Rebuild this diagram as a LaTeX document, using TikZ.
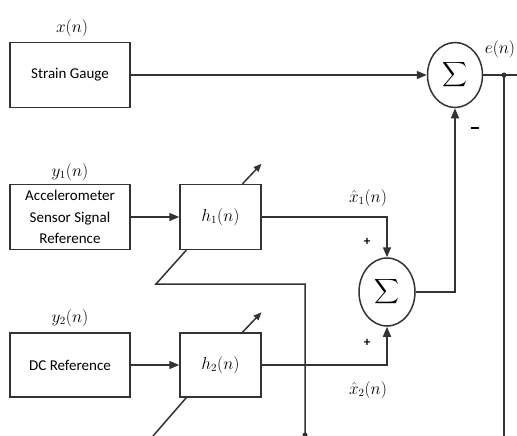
\documentclass[tikz,border=0pt]{standalone}
\usepackage{amsmath}
\usepackage{fontspec}
\newfontfamily\gaugefont{Carlito}
\usepackage{tikz}
\usetikzlibrary{positioning,calc}
\usetikzlibrary{arrows.meta}
\usetikzlibrary{shapes.geometric}

\begin{document}
\begin{tikzpicture}[x=1pt,y=-1pt,line width=1.5pt,draw=black!80,
    blockbox/.style={draw,rectangle,minimum width=120pt,minimum height=65pt,align=center,inner sep=0pt,font=\gaugefont\fontsize{15}{21.5}\selectfont},
    filterbox/.style={draw,rectangle,minimum width=81pt,minimum height=65pt,font=\fontsize{16}{18}\selectfont},
    sumnode/.style={draw,ellipse,minimum width=55pt,minimum height=65pt,inner sep=0pt,font=\fontsize{16}{18}\selectfont},
    sig/.style={inner sep=0pt,font=\fontsize{16}{18}\selectfont},
    sign/.style={inner sep=0pt,font=\gaugefont\bfseries\fontsize{13}{13}\selectfont},
    >={Triangle[length=10pt,width=8pt]},
    ]
\useasboundingbox (0,0) rectangle (517,436);

% blocks
\node[blockbox] (gauge) at (70,75) {Strain Gauge};
\node[blockbox] (accel) at (70,217) {Accelerometer\\Sensor Signal\\Reference};
\node[blockbox,minimum height=64pt] (dcref) at (70,365) {DC Reference};
\node[filterbox] (hone) at (220.5,217) {$h_1(n)$};
\node[filterbox,minimum height=64pt] (htwo) at (220.5,365) {$h_2(n)$};
\node[sumnode] (sumone) at (455,75) {$\displaystyle\sum$};
\node[sumnode,minimum width=56pt,minimum height=68pt] (sumtwo) at (387,292) {$\displaystyle\sum$};

% signal labels
\node[sig] (xlab) at (72,28) {$x(n)$};
\node[sig] (ylabone) at (70,172) {$y_1(n)$};
\node[sig] (ylabtwo) at (70,318) {$y_2(n)$};
\node[sig] (elab) at (500,49) {$e(n)$};
\node[sig] (xhatone) at (368,198) {$\hat{x}_1(n)$};
\node[sig] (xhattwo) at (368,390) {$\hat{x}_2(n)$};
\node[sign] (plusone) at (367,242) {+};
\node[sign] (plustwo) at (367,343) {+};
\node[sign] (minus) at (475,128) {\rule{8pt}{2.6pt}};

\coordinate (eout) at (517,75);
\coordinate (etap) at (504,75);
\coordinate (ebot) at (504,436);
\coordinate (fbone) at (156,284);
\coordinate (fbdown) at (305,436);
\coordinate (fbtwo) at (153,436);

\draw[->] (gauge) -- (sumone); % x
\draw[->] (accel) -- (hone); % y_1
\draw[->] (dcref) -- (htwo); % y_2
\draw[->] (hone.east) -| (sumtwo.north); % x_1 hat
\draw[->] (htwo.east) -| (sumtwo.south); % x_2 hat
\draw[->] (sumtwo.east) -| (sumone.south); % sum of estimates
\draw (sumone.east) -- (eout); % e
\fill[black!80] (etap) circle (2.5pt);
\draw (etap) -- (ebot);

% adaptation
\draw[->,>={Triangle[length=8pt,width=6.5pt]}] ($(hone.north)+(22,0)$) -- ++(19,-20);
\draw[->,>={Triangle[length=8pt,width=6.5pt]}] ($(htwo.north)+(22,0)$) -- ++(19,-20);
\draw ($(hone.south west)+(7,0)$) -- (fbone) -- (fbone -| fbdown) -- (fbdown);
\fill[black!80] ($(fbdown)+(0,-1)$) circle (2.5pt);
\draw ($(htwo.south west)+(7,0)$) -- (fbtwo);
\end{tikzpicture}
\end{document}
